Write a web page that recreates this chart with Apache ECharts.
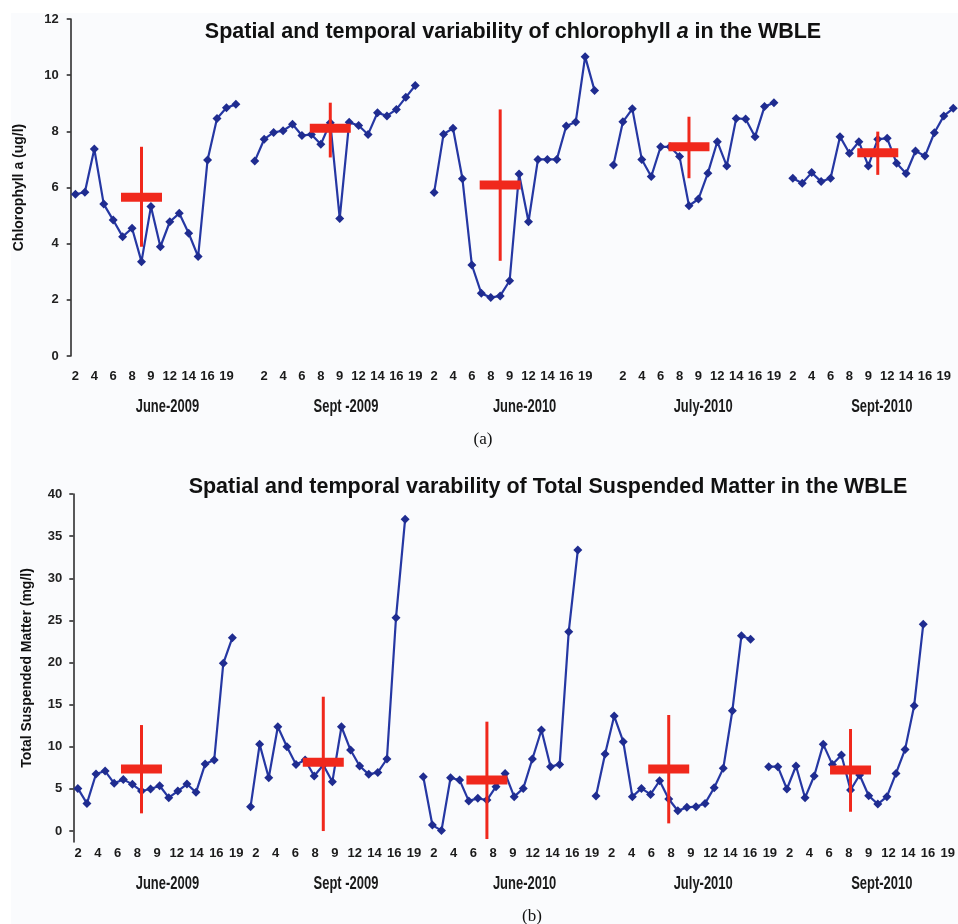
<!DOCTYPE html>
<html>
<head>
<meta charset="utf-8">
<script src="https://cdn.jsdelivr.net/npm/echarts@6/dist/echarts.min.js"></script>
<style>
html,body{margin:0;padding:0;background:#ffffff;}
#chart{width:958px;height:924px;}
</style>
</head>
<body>
<div id="chart"></div>
<script>
// ---------- data ----------
const groupNames = ['June-2009', 'Sept -2009', 'June-2010', 'July-2010', 'Sept-2010'];
const stationTicks = ['2', '4', '6', '8', '9', '12', '14', '16', '19'];

// Chlorophyll a (ug/l), 18 stations per campaign
const chlJun09 = [5.76, 5.83, 7.37, 5.41, 4.84, 4.25, 4.55, 3.36, 5.32, 3.89, 4.78, 5.08, 4.37, 3.54, 6.98, 8.46, 8.84, 8.96];
const chlSep09 = [6.94, 7.72, 7.96, 8.02, 8.25, 7.85, 7.89, 7.54, 8.31, 4.90, 8.32, 8.21, 7.89, 8.66, 8.55, 8.78, 9.21, 9.63];
const chlJun10 = [5.82, 7.90, 8.11, 6.31, 3.24, 2.23, 2.08, 2.14, 2.68, 6.48, 4.78, 7.00, 7.00, 7.00, 8.19, 8.33, 10.66, 9.45];
const chlJul10 = [6.80, 8.34, 8.80, 7.00, 6.39, 7.45, 7.45, 7.10, 5.35, 5.59, 6.51, 7.63, 6.77, 8.46, 8.44, 7.81, 8.88, 9.02];
const chlSep10 = [6.33, 6.15, 6.53, 6.21, 6.33, 7.81, 7.22, 7.63, 6.77, 7.72, 7.75, 6.86, 6.50, 7.30, 7.12, 7.95, 8.55, 8.82];
const chlMean = [5.65, 8.11, 6.09, 7.45, 7.24];
const chlLow  = [3.89, 7.07, 3.39, 6.33, 6.45];
const chlHigh = [7.45, 9.02, 8.78, 8.52, 7.99];
const chlMarkStation = [7, 8, 7, 8, 9];

// Total Suspended Matter (mg/l)
const tsmJun09 = [5.06, 3.28, 6.77, 7.12, 5.66, 6.13, 5.54, 4.75, 4.99, 5.38, 3.96, 4.75, 5.58, 4.59, 7.95, 8.43, 19.90, 22.95];
const tsmSep09 = [2.89, 10.29, 6.33, 12.38, 10.01, 7.91, 8.43, 6.53, 7.83, 5.86, 12.38, 9.61, 7.72, 6.73, 6.96, 8.55, 25.32, 36.99];
const tsmJun10 = [6.45, 0.71, 0.05, 6.33, 6.05, 3.58, 3.88, 3.68, 5.26, 6.84, 4.08, 5.06, 8.55, 11.99, 7.64, 7.91, 23.66, 33.35];
const tsmJul10 = [4.15, 9.14, 13.65, 10.60, 4.08, 5.06, 4.35, 5.97, 3.80, 2.41, 2.81, 2.89, 3.28, 5.14, 7.44, 14.28, 23.18, 22.75];
const tsmSep10 = [7.64, 7.64, 4.99, 7.72, 3.96, 6.53, 10.29, 7.91, 9.02, 4.87, 6.65, 4.19, 3.20, 4.08, 6.84, 9.69, 14.88, 24.53];
const tsmMean = [7.36, 8.15, 6.05, 7.36, 7.24];
const tsmLow  = [2.10, 0.00, -0.95, 0.91, 2.29];
const tsmHigh = [12.58, 15.94, 12.98, 13.77, 12.11];
const tsmMarkStation = [7, 8, 7, 8, 9];

// ---------- build ----------
const chlGroups = [chlJun09, chlSep09, chlJun10, chlJul10, chlSep10];
const tsmGroups = [tsmJun09, tsmSep09, tsmJun10, tsmJul10, tsmSep10];
const perGroup = 18;
const period = perGroup + 1; // one empty category between campaigns

function concatGroups(groups) {
  const out = [];
  groups.forEach((g, i) => {
    g.forEach(v => out.push(v));
    if (i < groups.length - 1) out.push(null);
  });
  return out;
}
const chlSeries = concatGroups(chlGroups);
const tsmSeries = concatGroups(tsmGroups);
const nCat = chlSeries.length;
const cats = Array.from({length: nCat}, (_, i) => String(i));

// top-axis tick labels: every second category (Excel style)
const topTickLabels = new Array(nCat).fill('');
chlGroups.forEach((g, gi) => {
  let k = 0;
  for (let j = 0; j < perGroup; j++) {
    const idx = gi * period + j;
    if (idx % 2 === 0 && k < stationTicks.length) topTickLabels[idx] = stationTicks[k++];
  }
});
// bottom tick labels: evenly spread
const bottomTickLabels = [];
groupNames.forEach(() => stationTicks.forEach(t => bottomTickLabels.push(t)));

function markData(mean, low, high, st) {
  return mean.map((m, i) => [i * period + st[i], m, low[i], high[i]]);
}

const RED = '#f0281c';
const BLUE = '#2537a3';
const DARK = '#1f2c90';

function renderMark(params, api) {
  const x = api.value(0);
  const c = api.coord([x, api.value(1)]);
  const lo = api.coord([x, api.value(2)]);
  const hi = api.coord([x, api.value(3)]);
  return {
    type: 'group',
    children: [
      {type: 'rect', shape: {x: c[0] - 1.5, y: hi[1], width: 3, height: lo[1] - hi[1]}, style: {fill: RED}},
      {type: 'rect', shape: {x: c[0] - 20.5, y: c[1] - 4.5, width: 41, height: 9}, style: {fill: RED}}
    ]
  };
}

const axisFont = 'Liberation Sans, Arial, sans-serif';

const option = {
  backgroundColor: '#fafbfd',
  animation: false,
  title: [
    {
      text: '{b|Spatial and temporal variability of chlorophyll }{i|a}{b| in the WBLE}',
      left: 508, top: 16, textAlign: 'center',
      textStyle: {
        rich: {
          b: {fontFamily: axisFont, fontWeight: 'bold', fontSize: 21.5, color: '#111'},
          i: {fontFamily: axisFont, fontWeight: 'bold', fontStyle: 'italic', fontSize: 21.5, color: '#111'}
        }
      }
    },
    {
      text: 'Spatial and temporal varability of Total Suspended Matter in the WBLE',
      left: 543, top: 471, textAlign: 'center',
      textStyle: {fontFamily: axisFont, fontWeight: 'bold', fontSize: 21.5, color: '#111'}
    },
    {
      text: '(a)', left: 478, top: 426, textAlign: 'center',
      textStyle: {fontFamily: 'Liberation Serif, Times New Roman, serif', fontWeight: 'normal', fontSize: 17, color: '#111'}
    },
    {
      text: '(b)', left: 527, top: 903, textAlign: 'center',
      textStyle: {fontFamily: 'Liberation Serif, Times New Roman, serif', fontWeight: 'normal', fontSize: 17, color: '#111'}
    }
  ],
  grid: [
    {left: 70.7, top: 19, width: 888.3, height: 337},          // 0 chl
    {left: 73.3, top: 494, width: 854.5, height: 348},         // 1 tsm
    {left: 167.4, top: 300, width: 714.4, height: 107},        // 2 chl campaign names (axis at label centre line)
    {left: 78, top: 494, width: 872, height: 348},             // 3 tsm tick labels
    {left: 167.4, top: 800, width: 714.4, height: 84}          // 4 tsm campaign names
  ],
  xAxis: [
    {
      gridIndex: 0, type: 'category', data: cats, boundaryGap: true,
      axisLine: {show: false}, axisTick: {show: false},
      axisLabel: {
        interval: 1, margin: 14,
        formatter: (v, i) => topTickLabels[i],
        fontFamily: axisFont, fontWeight: 'bold', fontSize: 13, color: '#1a1a1a'
      }
    },
    {
      gridIndex: 1, type: 'category', data: cats, boundaryGap: true,
      axisLine: {show: false}, axisTick: {show: false}, axisLabel: {show: false}
    },
    {
      gridIndex: 2, type: 'category', data: groupNames, boundaryGap: false,
      axisLine: {show: false}, axisTick: {show: false}, axisLabel: {show: false}
    },
    {
      gridIndex: 3, type: 'category', data: bottomTickLabels, boundaryGap: false,
      axisLine: {show: false}, axisTick: {show: false},
      axisLabel: {interval: 0, margin: 5, fontFamily: axisFont, fontWeight: 'bold', fontSize: 13, color: '#1a1a1a'}
    },
    {
      gridIndex: 4, type: 'category', data: groupNames, boundaryGap: false,
      axisLine: {show: false}, axisTick: {show: false}, axisLabel: {show: false}
    }
  ],
  yAxis: [
    {
      gridIndex: 0, type: 'value', min: 0, max: 12, interval: 2,
      name: 'Chlorophyll a (ug/l)', nameLocation: 'middle', nameGap: 45,
      nameTextStyle: {fontFamily: axisFont, fontWeight: 'bold', fontSize: 14, color: '#111'},
      axisLine: {show: true, lineStyle: {color: '#222', width: 1.5}},
      axisTick: {show: true, length: 4, lineStyle: {color: '#222', width: 1.5}},
      splitLine: {show: false},
      axisLabel: {margin: 12, fontFamily: axisFont, fontWeight: 'bold', fontSize: 13, color: '#222'}
    },
    {
      gridIndex: 1, type: 'value', min: -1.3, max: 40,
      name: 'Total Suspended Matter (mg/l)', nameLocation: 'middle', nameGap: 39,
      nameTextStyle: {fontFamily: axisFont, fontWeight: 'bold', fontSize: 14, color: '#111'},
      axisLine: {show: true, lineStyle: {color: '#222', width: 1.5}},
      axisTick: {show: true, length: 4, lineStyle: {color: '#222', width: 1.5}, customValues: [0, 5, 10, 15, 20, 25, 30, 35, 40]},
      splitLine: {show: false},
      axisLabel: {margin: 11, fontFamily: axisFont, fontWeight: 'bold', fontSize: 13, color: '#222', customValues: [0, 5, 10, 15, 20, 25, 30, 35, 40]}
    },
    {gridIndex: 2, type: 'value', show: false},
    {gridIndex: 3, type: 'value', show: false},
    {gridIndex: 4, type: 'value', show: false}
  ],
  series: [
    {
      type: 'line', xAxisIndex: 0, yAxisIndex: 0, data: chlSeries, connectNulls: false,
      symbol: 'diamond', symbolSize: 9, showAllSymbol: true,
      lineStyle: {color: BLUE, width: 2.2}, itemStyle: {color: DARK}, z: 2
    },
    {
      type: 'custom', xAxisIndex: 0, yAxisIndex: 0, renderItem: renderMark,
      data: markData(chlMean, chlLow, chlHigh, chlMarkStation), z: 5
    },
    {
      type: 'line', xAxisIndex: 1, yAxisIndex: 1, data: tsmSeries, connectNulls: false,
      symbol: 'diamond', symbolSize: 9, showAllSymbol: true,
      lineStyle: {color: BLUE, width: 2.2}, itemStyle: {color: DARK}, z: 2
    },
    {
      type: 'custom', xAxisIndex: 1, yAxisIndex: 1, renderItem: renderMark,
      data: markData(tsmMean, tsmLow, tsmHigh, tsmMarkStation), z: 5
    }
  ]
};

const chart = echarts.init(document.getElementById('chart'), null, {renderer: 'canvas'});
chart.setOption(option);

// white page margins + campaign names (positioned by the category axes of grids 2 and 4, drawn condensed)
const graphics = [
  {type: 'rect', id: 'wTop', x: 0, y: 0, shape: {x: 0, y: 0, width: 958, height: 13}, style: {fill: '#ffffff'}, silent: true, z: -10},
  {type: 'rect', id: 'wLeft', x: 0, y: 0, shape: {x: 0, y: 0, width: 11, height: 924}, style: {fill: '#ffffff'}, silent: true, z: -10}
];
[[2, 2], [4, 4]].forEach(([xi, yi]) => {
  groupNames.forEach((name, i) => {
    const p = chart.convertToPixel({xAxisIndex: xi, yAxisIndex: yi}, [i, 0]);
    graphics.push({
      type: 'text', id: 'gname_' + xi + '_' + i, x: p[0], y: p[1], scaleX: 0.72, silent: true, z: 10,
      style: {
        text: name, align: 'center', verticalAlign: 'middle',
        font: 'bold 18px "Liberation Sans", Arial, sans-serif', fill: '#1a1a1a'
      }
    });
  });
});
chart.setOption({graphic: graphics});
</script>
</body>
</html>
